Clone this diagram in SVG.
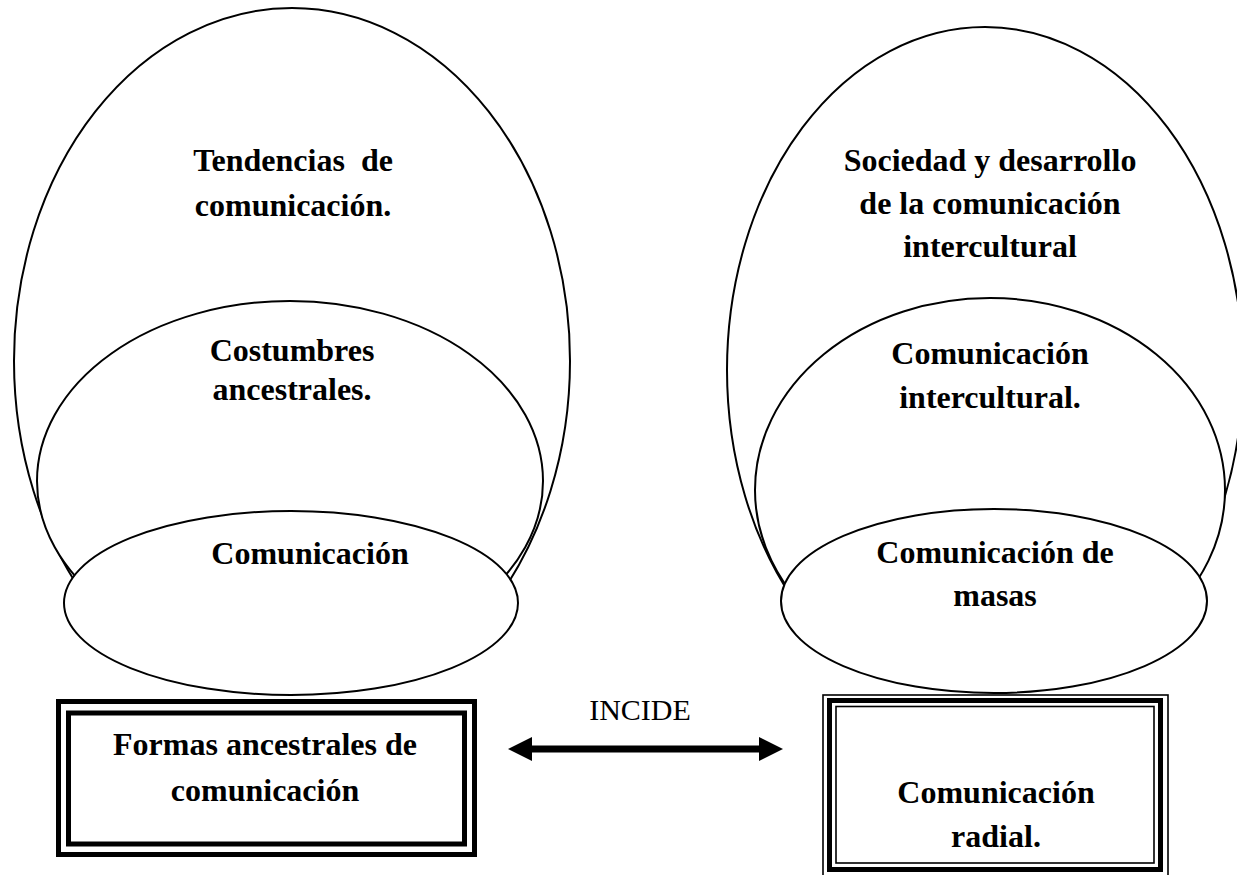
<svg xmlns="http://www.w3.org/2000/svg" width="1237" height="875" viewBox="0 0 1237 875">
<style>
.ell{fill:#fff;stroke:#000;stroke-width:2}
.t{font-family:"Liberation Serif","Times New Roman",serif;font-weight:bold;font-size:32px;fill:#000;text-anchor:middle;white-space:pre}
.lbl{font-family:"Liberation Serif","Times New Roman",serif;font-size:30px;fill:#000;text-anchor:middle}
.thick{fill:none;stroke:#000;stroke-width:5}
.thin{fill:none;stroke:#000;stroke-width:1.6}
</style>
<defs>
<marker id="ah" markerUnits="userSpaceOnUse" markerWidth="24" markerHeight="24" refX="12" refY="12" orient="auto-start-reverse">
<path d="M0,0 L24,12 L0,24 z" fill="#000"/>
</marker>
<clipPath id="clipL"><rect x="0" y="0" width="620" height="604"/></clipPath>
<clipPath id="clipR"><rect x="620" y="0" width="617" height="600"/></clipPath>
</defs>
<rect width="1237" height="875" fill="#fff"/>

<g id="tendencias">
<ellipse class="ell" cx="292" cy="361" rx="278" ry="353" clip-path="url(#clipL)"/>
<text class="t" x="293" y="171" xml:space="preserve">Tendencias  de</text>
<text class="t" x="293" y="216">comunicación.</text>
</g>
<g id="costumbres">
<ellipse class="ell" cx="290" cy="481" rx="253" ry="180" clip-path="url(#clipL)"/>
<text class="t" x="292" y="361">Costumbres</text>
<text class="t" x="292" y="400">ancestrales.</text>
</g>
<g id="comunicacion">
<ellipse class="ell" cx="291" cy="603" rx="227" ry="92"/>
<text class="t" x="310" y="564">Comunicación</text>
</g>

<g id="sociedad">
<ellipse class="ell" cx="985" cy="370" rx="258" ry="343" clip-path="url(#clipR)"/>
<text class="t" x="990" y="171">Sociedad y desarrollo</text>
<text class="t" x="990" y="214">de la comunicación</text>
<text class="t" x="990" y="257">intercultural</text>
</g>
<g id="intercultural">
<ellipse class="ell" cx="990" cy="490" rx="235" ry="192" clip-path="url(#clipR)"/>
<text class="t" x="990" y="364">Comunicación</text>
<text class="t" x="990" y="408">intercultural.</text>
</g>
<g id="masas">
<ellipse class="ell" cx="994" cy="601" rx="213" ry="92"/>
<text class="t" x="995" y="563">Comunicación de</text>
<text class="t" x="995" y="606">masas</text>
</g>

<g id="formas">
<rect class="thick" x="58.5" y="701.5" width="416" height="153"/>
<rect class="thick" x="68.5" y="713" width="396" height="131"/>
<text class="t" x="265" y="755">Formas ancestrales de</text>
<text class="t" x="265" y="801">comunicación</text>
</g>

<g id="radial">
<rect class="thin" x="823" y="695" width="345" height="181"/>
<rect class="thick" x="829.5" y="700.5" width="331" height="169"/>
<rect class="thin" x="836" y="706.5" width="318" height="156.5"/>
<text class="t" x="996" y="803">Comunicación</text>
<text class="t" x="996" y="847">radial.</text>
</g>

<g id="connectors">
<line x1="520" y1="749" x2="771" y2="749" stroke="#000" stroke-width="7" marker-start="url(#ah)" marker-end="url(#ah)"/>
<text class="lbl" x="640" y="720">INCIDE</text>
</g>
</svg>
